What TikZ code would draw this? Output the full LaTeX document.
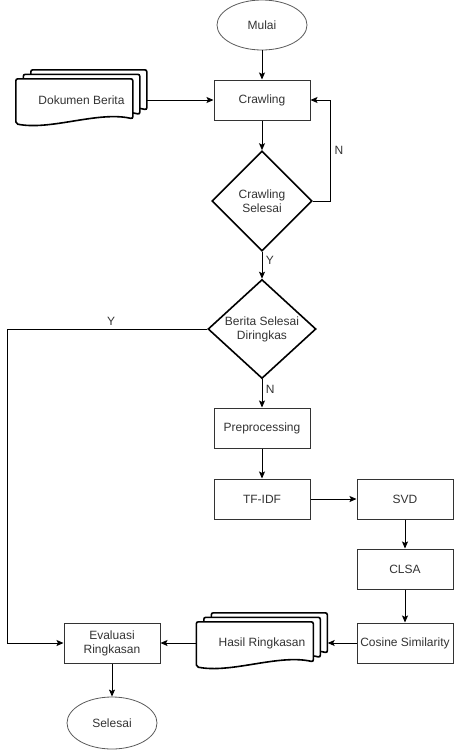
\documentclass[tikz,border=0pt]{standalone}
\usepackage{fontspec}
\setmainfont{Liberation Sans}
\usepackage{tikz}
\usetikzlibrary{shapes.geometric,arrows.meta,backgrounds,positioning}
\definecolor{garisabu}{RGB}{90,90,90}
\definecolor{teksabu}{RGB}{51,51,51}

% tumpukan tiga dokumen di belakang sebuah node
\newcommand{\tumpukdok}[1]{%
  \begin{scope}[on background layer, shift={(#1.north west)}]
    \foreach \lapis in {2,1,0} {
      \pgfmathsetmacro{\kiri}{7.5*\lapis}
      \pgfmathsetmacro{\kanan}{117+7*\lapis}
      \pgfmathsetmacro{\atas}{9-4.5*\lapis}
      \pgfmathsetmacro{\bawah}{54-4.5*\lapis}
      \draw[dokgaris] (\kiri,\bawah) -- (\kiri,\atas) -- (\kanan,\atas) -- (\kanan,\bawah-5)
        .. controls (\kanan-35,\bawah-13) and (\kiri+35,\bawah+7) .. (\kiri,\bawah) -- cycle;
    }
  \end{scope}}

\begin{document}
\begin{tikzpicture}[x=1pt, y=-1pt, font=\fontsize{12}{14}\selectfont, text=teksabu,
    proses/.style={rectangle, draw=teksabu, line width=1pt, minimum width=96pt, minimum height=40pt, align=center, inner sep=1pt},
    terminal/.style={ellipse, draw=garisabu, line width=0.8pt, minimum width=90pt, minimum height=50pt},
    keputusan/.style={diamond, draw=black, line width=1.6pt, align=center, inner sep=0pt, aspect=1.09},
    dokumen/.style={rectangle, minimum width=131pt, minimum height=60pt, inner sep=0pt},
    dokgaris/.style={draw=black, fill=white, line width=1.6pt, rounded corners=2pt},
    panah/.style={draw=black, line width=0.9pt, -{Stealth[length=7pt,width=6pt,inset=1.5pt]}}]
        \useasboundingbox (0,0) rectangle (453,750);
        \node[terminal] (mulai) at (262,25) {Mulai};
        \node[proses, node distance=75pt, below of=mulai] (crawl) {Crawling};
        \node[keputusan, minimum width=100pt, minimum height=100pt, node distance=101pt, below of=crawl] (cek1) {Crawling\\Selesai};
        \node[keputusan, minimum width=108pt, minimum height=99pt, node distance=128pt, below of=cek1] (cek2) {Berita Selesai\\Diringkas};
        \node[proses, node distance=99pt, below of=cek2] (prep) {Preprocessing};
        \node[proses, node distance=71pt, below of=prep] (tfidf) {TF-IDF};
        \node[proses, node distance=143pt, right of=tfidf] (svd) {SVD};
        \node[proses, node distance=70pt, below of=svd] (clsa) {CLSA};
        \node[proses, node distance=74pt, below of=clsa] (cosine) {Cosine Similarity};
        \node[dokumen, node distance=143pt, left of=cosine] (hasil) {Hasil Ringkasan};
        \node[proses, node distance=150pt, left of=hasil] (eval) {Evaluasi\\Ringkasan};
        \node[terminal, minimum height=52pt, node distance=80pt, below of=eval] (selesai) {Selesai};
        \node[dokumen, node distance=180.5pt, left of=crawl] (dok) {Dokumen Berita};
        \coordinate (kiri) at (7,0);
        \tumpukdok{dok}
        \tumpukdok{hasil}

        \draw[panah] (mulai) -- (crawl);
        \draw[panah] (dok) -- (crawl);
        \draw[panah] (crawl) -- (cek1);
        \draw[panah] (cek1.east) -- ++(18,0) |- (crawl.east) node[pos=0.25, right] {N};
        \draw[panah] (cek1) -- node[pos=0.3, right] {Y} (cek2);
        \draw[panah] (cek2.west) -| (kiri |- eval.west) node[pos=0.24, above] {Y} -- (eval.west);
        \draw[panah] (cek2) -- node[pos=0.35, right] {N} (prep);
        \draw[panah] (prep) -- (tfidf);
        \draw[panah] (tfidf) -- (svd);
        \draw[panah] (svd) -- (clsa);
        \draw[panah] (clsa) -- (cosine);
        \draw[panah] (cosine) -- (hasil);
        \draw[panah] (hasil) -- (eval);
        \draw[panah] (eval) -- (selesai);
  \end{tikzpicture}
\end{document}
